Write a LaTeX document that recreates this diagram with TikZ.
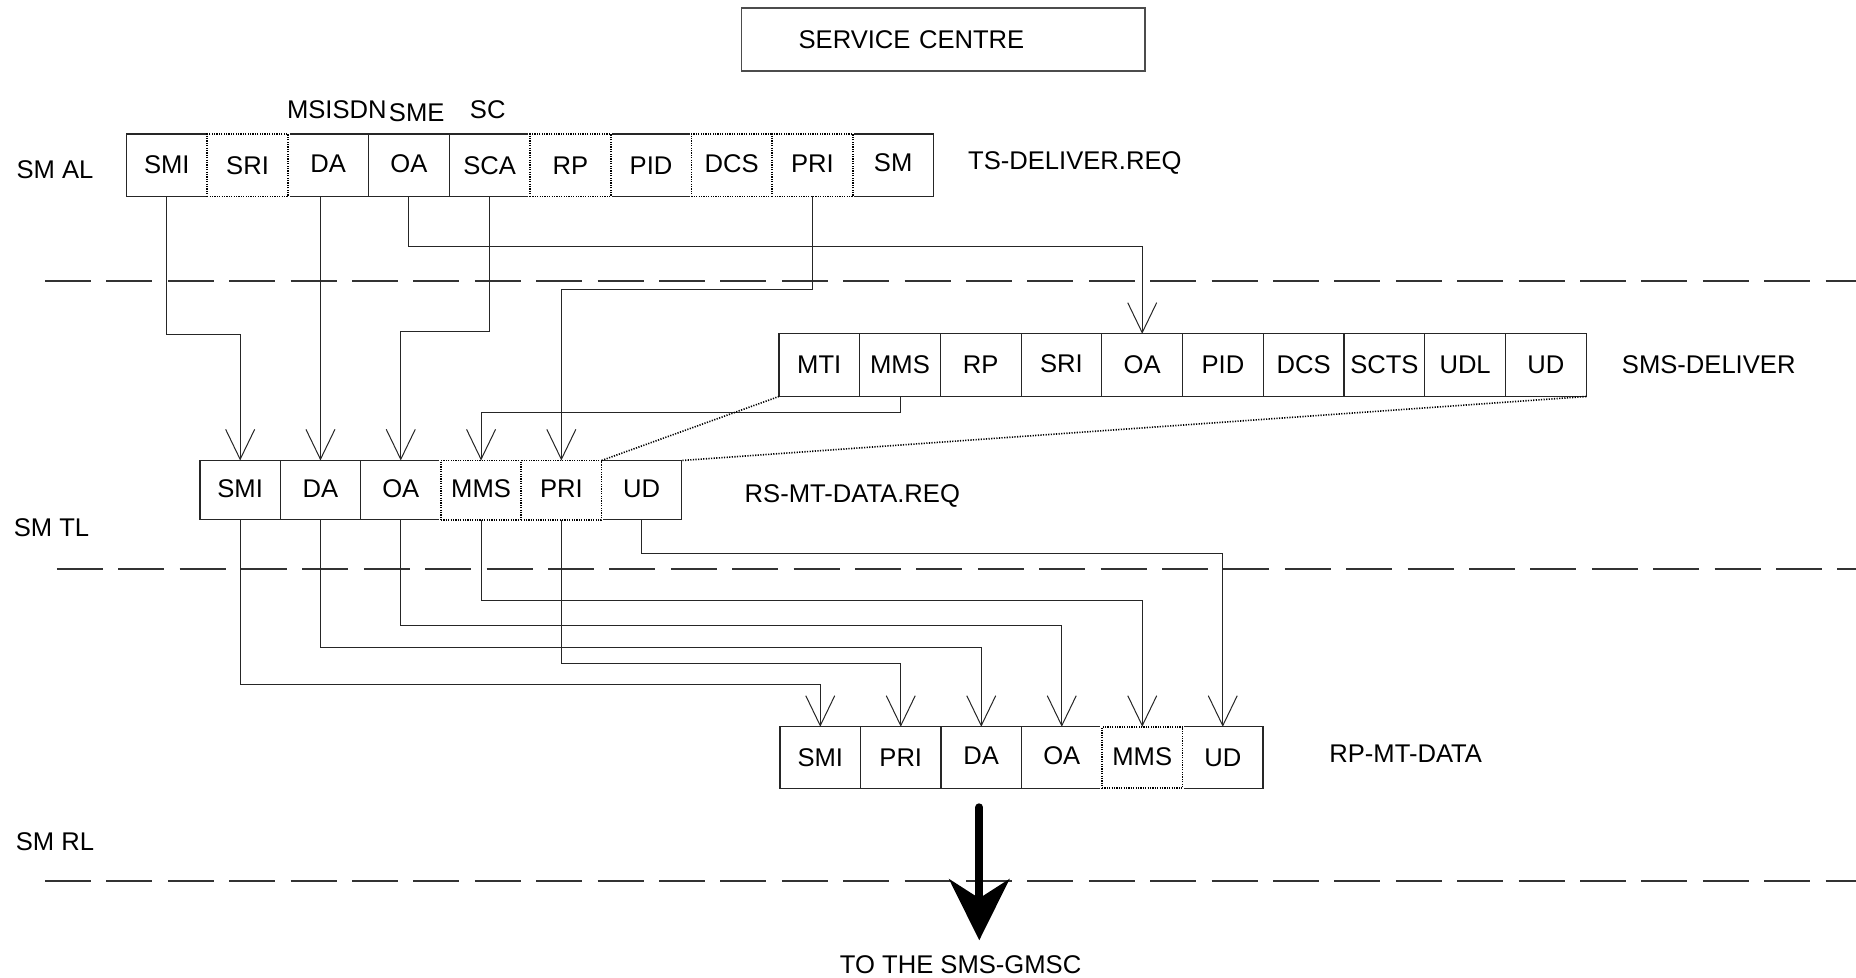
\documentclass[tikz,border=0pt]{standalone}
\usepackage{fontspec}
\setmainfont{Liberation Sans}
\usetikzlibrary{arrows.meta,calc}
\begin{document}
\begin{tikzpicture}[x=0.5pt,y=-0.5pt,
  font=\fontsize{12.8}{15}\selectfont,
  cell/.style={inner sep=0pt,outer sep=0pt,draw=black!85,line width=0.6pt},
  dcell/.style={inner sep=0pt,outer sep=0pt,draw=black,line width=0.9pt,
     dash pattern=on 0.6pt off 0.6pt,
     preaction={draw=white,solid,line width=1.6pt}},
  trow/.style={minimum width=40.35pt,minimum height=31.25pt},
  srow/.style={minimum width=40.37pt,minimum height=31.35pt},
  rrow/.style={minimum width=40.15pt,minimum height=29.55pt},
  prow/.style={minimum width=40.25pt,minimum height=30.75pt},
  conn/.style={draw=black!85,line width=0.5pt,-{Straight Barb[length=15pt,width=14.5pt]}},
  dots/.style={draw=black,line width=0.8pt,dash pattern=on 0.6pt off 0.7pt},
  sep/.style={draw=black!80,line width=1pt,dash pattern=on 23pt off 7.7pt},
  lbl/.style={inner sep=0pt}
]
\useasboundingbox (0,0) rectangle (1856,978);

% service centre
\node[cell,draw=black!70,inner xsep=28.5pt,text width=144.7pt,align=left,minimum height=31.5pt] (sc) at (943.3,39.5) {SERVICE CENTRE};

% separators
\coordinate (d1a) at (45,280.6);   \coordinate (d1b) at (1856,280.6);
\coordinate (d2a) at (56.8,569.4); \coordinate (d2b) at (1856,569.4);
\coordinate (d3a) at (45,880.7);   \coordinate (d3b) at (1856,880.7);
\draw[sep] (d1a) -- (d1b);
\draw[sep] (d2a) -- (d2b);
\draw[sep] (d3a) -- (d3b);

% layer labels
\node[lbl] (smal) at (55,169.3) {SM AL};
\node[lbl] (smtl) at (51.5,528) {SM TL};
\node[lbl] (smrl) at (55,841.6) {SM RL};

% ---- TS-DELIVER.REQ row (solid first)
\node[cell,trow] (tSMI) at (166.85,165.25) {\raisebox{0.9pt}{SMI}};
\node[cell,trow] (tDA)  at (328.25,165.25) {\raisebox{1.2pt}{DA}};
\node[cell,trow] (tOA)  at (408.95,165.25) {\raisebox{1.2pt}{OA}};
\node[cell,trow] (tSCA) at (489.65,165.25) {SCA};
\node[cell,trow] (tPID) at (651.05,165.25) {PID};
\node[cell,trow] (tSM)  at (893.15,165.25) {\raisebox{2.5pt}{SM}};
\node[dcell,trow] (tSRI) at (247.55,165.25) {SRI};
\node[dcell,trow] (tRP)  at (570.35,165.25) {RP};
\node[dcell,trow] (tDCS) at (731.75,165.25) {\raisebox{1.2pt}{DCS}};
\node[dcell,trow] (tPRI) at (812.45,165.25) {\raisebox{1.2pt}{PRI}};
\node[lbl] (msisdn) at (336.8,110) {MSISDN};
\node[lbl] (sme) at (416.7,113) {SME};
\node[lbl] (scl) at (487.7,110) {SC};
\node[lbl] (tsdel) at (1074.8,163.4) {TS-DELIVER.REQ};

% ---- SMS-DELIVER row
\node[cell,srow] (sMTI)  at (819.27,365.15) {MTI};
\node[cell,srow] (sMMS)  at (900.00,365.15) {MMS};
\node[cell,srow] (sRP)   at (980.73,365.15) {RP};
\node[cell,srow] (sSRI)  at (1061.46,365.15) {\raisebox{1.5pt}{SRI}};
\node[cell,srow] (sOA)   at (1142.19,365.15) {OA};
\node[cell,srow] (sPID)  at (1222.92,365.15) {PID};
\node[cell,srow] (sDCS)  at (1303.65,365.15) {DCS};
\node[cell,srow] (sSCTS) at (1384.38,365.15) {SCTS};
\node[cell,srow] (sUDL)  at (1465.11,365.15) {UDL};
\node[cell,srow] (sUD)   at (1545.84,365.15) {UD};
\node[lbl] (smsdel) at (1708.7,364.6) {SMS-DELIVER};

% ---- RS-MT-DATA.REQ row
\node[cell,rrow] (rSMI) at (240.15,490.05) {\raisebox{1.8pt}{SMI}};
\node[cell,rrow] (rDA)  at (320.45,490.05) {\raisebox{1.8pt}{DA}};
\node[cell,rrow] (rOA)  at (400.75,490.05) {\raisebox{1.8pt}{OA}};
\node[cell,rrow] (rUD)  at (641.65,490.05) {\raisebox{1.8pt}{UD}};
\node[dcell,rrow] (rMMS) at (481.05,490.05) {\raisebox{1.8pt}{MMS}};
\node[dcell,rrow] (rPRI) at (561.35,490.05) {\raisebox{1.8pt}{PRI}};
\node[lbl] (rsmt) at (852.3,496) {RS-MT-DATA.REQ};

% ---- RP-MT-DATA row
\node[cell,prow] (pSMI) at (820.25,757.55) {SMI};
\node[cell,prow] (pPRI) at (900.75,757.55) {PRI};
\node[cell,prow] (pDA)  at (981.25,757.55) {\raisebox{1.8pt}{DA}};
\node[cell,prow] (pOA)  at (1061.75,757.55) {\raisebox{1.8pt}{OA}};
\node[cell,prow] (pUD)  at (1222.75,757.55) {UD};
\node[dcell,prow] (pMMS) at (1142.25,757.55) {\raisebox{0.6pt}{MMS}};
\node[lbl] (rpmt) at (1405.7,754) {RP-MT-DATA};

% ---- connectors TS-DELIVER.REQ -> SMS-DELIVER / RS-MT-DATA.REQ
\draw[conn] (tSMI.south) -- (tSMI.south |- 0,334.3) -| (rSMI.north);
\draw[conn] (rDA.north |- tDA.south) -- (rDA.north);
\draw[conn] (tOA.south) -- (tOA.south |- 0,246.7) -| (sOA.north);
\draw[conn] (tSCA.south) -- (tSCA.south |- 0,332) -| (rOA.north);
\draw[conn] (tPRI.south) -- (tPRI.south |- 0,289.3) -| (rPRI.north);
\draw[conn] (sMMS.south) -- (sMMS.south |- 0,412.3) -| (rMMS.north);
\draw[dots] (sMTI.south west) -- (rPRI.north east);
\draw[dots] (sUD.south east) -- (rUD.north east);

% ---- connectors RS-MT-DATA.REQ -> RP-MT-DATA
\draw[conn] (rSMI.south) -- (rSMI.south |- 0,684) -| (pSMI.north);
\draw[conn] (rDA.south)  -- (rDA.south |- 0,647.3) -| (pDA.north);
\draw[conn] (rOA.south)  -- (rOA.south |- 0,625.7) -| (pOA.north);
\draw[conn] (rMMS.south) -- (rMMS.south |- 0,600) -| (pMMS.north);
\draw[conn] (rPRI.south) -- (rPRI.south |- 0,663.3) -| (pPRI.north);
\draw[conn] (rUD.south)  -- (rUD.south |- 0,553.3) -| (pUD.north);

% ---- to the SMS-GMSC
\node[lbl] (gmsc) at (960.6,964.7) {TO THE SMS-GMSC};
\draw[line width=4pt,line cap=round,-{Stealth[length=30.5pt,width=30pt,inset=9.5pt]}]
  ($(pDA.south)+(-2,19)$) -- ($(pDA.south)+(-2,152)$);
\end{tikzpicture}
\end{document}
